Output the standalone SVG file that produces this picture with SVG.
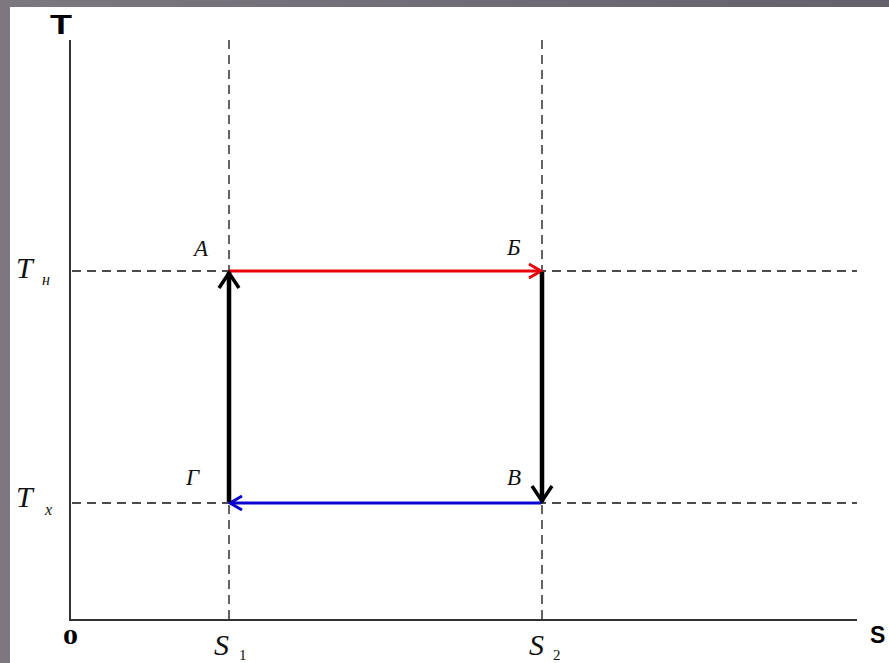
<svg xmlns="http://www.w3.org/2000/svg" width="889" height="663" viewBox="0 0 889 663">
<defs>
<linearGradient id="bg" x1="0" y1="0" x2="1" y2="0">
<stop offset="0" stop-color="#7d7880"/>
<stop offset="1" stop-color="#65606a"/>
</linearGradient>
<marker id="ar-red" viewBox="0 0 16 18" refX="14" refY="9" markerWidth="16" markerHeight="18" markerUnits="userSpaceOnUse" orient="auto">
<path d="M2,2 L14,9 L2,16" fill="none" stroke="#e8000b" stroke-width="3"/>
</marker>
<marker id="ar-blue" viewBox="0 0 16 18" refX="14" refY="9" markerWidth="16" markerHeight="18" markerUnits="userSpaceOnUse" orient="auto">
<path d="M2,2 L14,9 L2,16" fill="none" stroke="#0a00d0" stroke-width="3"/>
</marker>
<marker id="ar-black" viewBox="0 0 20 24" refX="18" refY="12" markerWidth="20" markerHeight="24" markerUnits="userSpaceOnUse" orient="auto">
<path d="M2,2 L17,12 L2,22" fill="none" stroke="#000" stroke-width="3.5"/>
</marker>
</defs>
<style>
.axis{stroke:#333;stroke-width:2;fill:none}
.dash{stroke:#111;stroke-width:1.3;stroke-dasharray:9 6;fill:none}
.lab{font-family:"Liberation Serif",serif;font-style:italic;font-size:23px;fill:#111}
.big{font-family:"Liberation Serif",serif;font-style:italic;font-size:30px;fill:#111}
.sub{font-family:"Liberation Serif",serif;font-style:italic;font-size:16px;fill:#111}
.subn{font-family:"Liberation Serif",serif;font-size:15px;fill:#111}
.ax{font-family:"Liberation Sans",sans-serif;font-weight:bold;fill:#000}
</style>
<rect x="0" y="0" width="889" height="663" fill="url(#bg)"/>
<rect x="10" y="7" width="879" height="656" fill="#fff"/>

<g id="axes">
<line class="axis" x1="70" y1="40" x2="70" y2="620"/>
<line class="axis" x1="69" y1="620" x2="857" y2="620"/>
<text class="ax" x="50" y="34" font-size="27" textLength="22" lengthAdjust="spacingAndGlyphs">T</text>
<text class="ax" x="870" y="643" font-size="23">S</text>
<text x="63" y="644" font-family="Liberation Serif,serif" font-weight="bold" font-size="20" fill="#000" textLength="15" lengthAdjust="spacingAndGlyphs">0</text>
</g>

<g id="guides">
<line class="dash" x1="229" y1="40" x2="229" y2="620"/>
<line class="dash" x1="542" y1="40" x2="542" y2="620"/>
<line class="dash" x1="72" y1="271" x2="857" y2="271"/>
<line class="dash" x1="72" y1="503" x2="857" y2="503"/>
</g>

<g id="connectors">
<line x1="229" y1="271" x2="541" y2="271" stroke="#e8000b" stroke-width="3" marker-end="url(#ar-red)"/>
<line x1="542" y1="272" x2="542" y2="502" stroke="#000" stroke-width="4.5" marker-end="url(#ar-black)"/>
<line x1="541" y1="503" x2="230" y2="503" stroke="#0a00d0" stroke-width="3" marker-end="url(#ar-blue)"/>
<line x1="229" y1="502" x2="229" y2="272" stroke="#000" stroke-width="4.5" marker-end="url(#ar-black)"/>
</g>

<g id="node-A"><text class="lab" x="194" y="256">A</text></g>
<g id="node-B6"><text class="lab" x="507" y="255">Б</text></g>
<g id="node-V"><text class="lab" x="507" y="485">В</text></g>
<g id="node-G"><text class="lab" x="186" y="485">Г</text></g>

<g id="labels">
<text class="big" x="16" y="278">T</text>
<text class="sub" x="42" y="285">н</text>
<text class="big" x="16" y="507">T</text>
<text class="sub" x="45" y="515">x</text>
<text class="big" x="214" y="655">S</text>
<text class="subn" x="239" y="660">1</text>
<text class="big" x="529" y="655">S</text>
<text class="subn" x="553" y="660">2</text>
</g>
</svg>
